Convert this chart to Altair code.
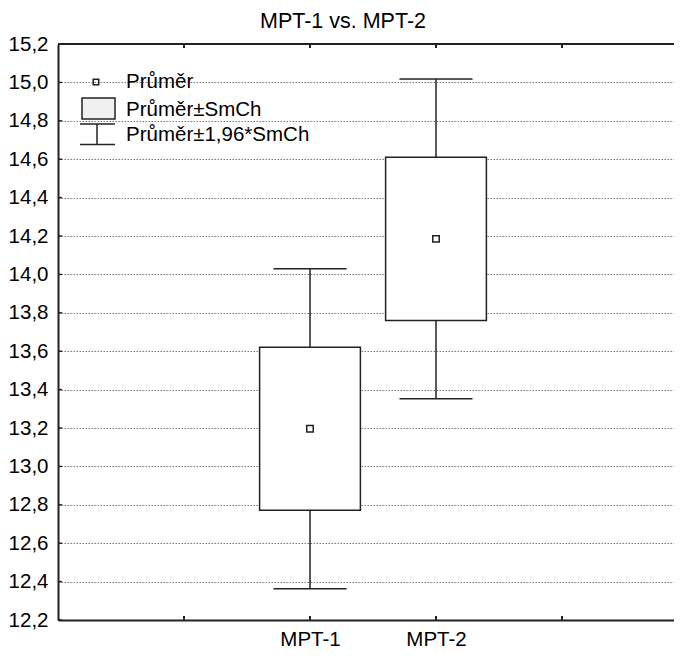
import altair as alt
import pandas as pd

# ---- data ----
categories = ["MPT-1", "MPT-2"]
positions = [2, 3]
means = [13.196, 14.185]
std_errors = [0.425, 0.425]
y_ticks = [12.2, 12.4, 12.6, 12.8, 13.0, 13.2, 13.4, 13.6, 13.8, 14.0,
           14.2, 14.4, 14.6, 14.8, 15.0, 15.2]
x_ticks = [1, 2, 3, 4]
legend_labels = ["Průměr", "Průměr±SmCh", "Průměr±1,96*SmCh"]
title_text = "MPT-1 vs. MPT-2"

FONT = "Liberation Sans"
FS = 20.5
W, H = 616, 576

df = pd.DataFrame({"cat": categories, "pos": positions, "mean": means, "se": std_errors})

x_scale = alt.Scale(domain=[0, W / 126.0], nice=False, zero=False)
y_scale = alt.Scale(domain=[12.2, 15.2], nice=False, zero=False)

label_expr = "''"
for p, c in zip(positions, categories):
    label_expr = f"datum.value == {p} ? '{c}' : ({label_expr})"

xa = alt.Axis(values=x_ticks, tickSize=0, grid=False, title=None, labelExpr=label_expr,
              labelFont=FONT, labelFontSize=FS, labelColor="black", labelPadding=9,
              domainColor="#222", domainWidth=2)
ya = alt.Axis(values=y_ticks, tickSize=0, grid=True, gridDash=[1.5, 1.5], gridColor="#777",
              gridWidth=1, title=None,
              labelExpr="replace(format(datum.value, '.1f'), '.', ',')",
              labelFont=FONT, labelFontSize=FS, labelColor="black", labelPadding=10,
              domainColor="#222", domainWidth=2)

base = alt.Chart(df).transform_calculate(
    lo="datum.mean - datum.se",
    hi="datum.mean + datum.se",
    lo96="datum.mean - 1.96 * datum.se",
    hi96="datum.mean + 1.96 * datum.se",
    bl="datum.pos - 0.4",
    br="datum.pos + 0.4",
    cl="datum.pos - 0.29",
    cr="datum.pos + 0.29",
)

whisker = base.mark_rule(color="#222", strokeWidth=1.5).encode(
    x=alt.X("pos:Q", scale=x_scale, axis=xa),
    y=alt.Y("lo96:Q", scale=y_scale, axis=ya),
    y2="hi96:Q",
)
box = base.mark_rect(fill="white", stroke="#222", strokeWidth=1.5).encode(
    x=alt.X("bl:Q", scale=x_scale, axis=xa), x2="br:Q",
    y=alt.Y("lo:Q", scale=y_scale, axis=ya), y2="hi:Q",
)
cap_hi = base.mark_rule(color="#222", strokeWidth=1.5).encode(
    x=alt.X("cl:Q", scale=x_scale, axis=xa), x2="cr:Q",
    y=alt.Y("hi96:Q", scale=y_scale, axis=ya),
)
cap_lo = base.mark_rule(color="#222", strokeWidth=1.5).encode(
    x=alt.X("cl:Q", scale=x_scale, axis=xa), x2="cr:Q",
    y=alt.Y("lo96:Q", scale=y_scale, axis=ya),
)
mean_pt = base.mark_point(shape="square", filled=False, size=42, stroke="#222",
                          strokeWidth=1.5, opacity=1).encode(
    x=alt.X("pos:Q", scale=x_scale, axis=xa),
    y=alt.Y("mean:Q", scale=y_scale, axis=ya),
)

# inward tick marks and top border
yt = pd.DataFrame({"v": y_ticks})
xt = pd.DataFrame({"t": x_ticks})
left_ticks = alt.Chart(yt).mark_rule(color="#222", strokeWidth=1.5).encode(
    y=alt.Y("v:Q", scale=y_scale, axis=ya), x=alt.value(0), x2=alt.value(4))
bottom_ticks = alt.Chart(xt).mark_rule(color="#222", strokeWidth=2).encode(
    x=alt.X("t:Q", scale=x_scale, axis=xa), y=alt.value(H), y2=alt.value(H - 4))
top_ticks = alt.Chart(xt).mark_rule(color="#222", strokeWidth=2).encode(
    x=alt.X("t:Q", scale=x_scale, axis=xa), y=alt.value(0), y2=alt.value(4))
top_border = alt.Chart(xt).mark_rule(color="#222", strokeWidth=2).encode(
    x=alt.value(0), x2=alt.value(W), y=alt.value(0))

# legend (drawn inside plot, top-left)
one = pd.DataFrame({"k": [0]})
lg_sq = alt.Chart(one).mark_point(
    shape="square", filled=False, size=30, stroke="#222", strokeWidth=1.5, opacity=1
).encode(x=alt.value(38), y=alt.value(38))
lg_box = alt.Chart(one).mark_rect(
    fill="#f0f0f0", stroke="#222", strokeWidth=1.5
).encode(x=alt.value(24), x2=alt.value(57), y=alt.value(54), y2=alt.value(75))
lg_w1 = alt.Chart(one).mark_rule(color="#222", strokeWidth=1.5).encode(
    x=alt.value(22), x2=alt.value(57), y=alt.value(80))
lg_w2 = alt.Chart(one).mark_rule(color="#222", strokeWidth=1.5).encode(
    x=alt.value(39), y=alt.value(80), y2=alt.value(100.5))
lg_w3 = alt.Chart(one).mark_rule(color="#222", strokeWidth=1.5).encode(
    x=alt.value(22), x2=alt.value(57), y=alt.value(100.5))

lg_texts = []
for lab, yy in zip(legend_labels, [38, 65.5, 90.5]):
    lg_texts.append(
        alt.Chart(pd.DataFrame({"label": [lab]})).mark_text(
            align="left", baseline="middle", font=FONT, fontSize=FS, color="black"
        ).encode(text="label:N", x=alt.value(68), y=alt.value(yy))
    )

chart = alt.layer(
    whisker, box, cap_hi, cap_lo, mean_pt,
    left_ticks, bottom_ticks, top_ticks, top_border,
    lg_box, lg_w1, lg_w2, lg_w3, lg_sq, *lg_texts,
).properties(
    width=W, height=H,
    title=alt.TitleParams(title_text, font=FONT, fontSize=21.5, fontWeight="normal",
                          color="black", anchor="middle", dx=-23, offset=2),
    autosize=alt.AutoSizeParams(type="none"),
    padding={"left": 50, "top": 36, "right": 0, "bottom": 28},
).configure_view(strokeWidth=0).configure(background="white")

chart.save("out.html", embed_options={"renderer": "svg", "actions": False})
